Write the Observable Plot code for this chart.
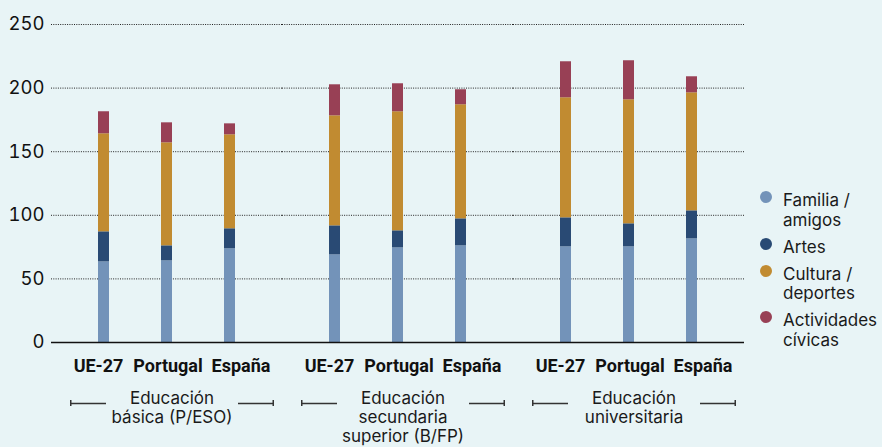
<!DOCTYPE html>
<html>
<head>
<meta charset="utf-8">
<script src="https://cdn.jsdelivr.net/npm/d3@7"></script>
<script src="https://cdn.jsdelivr.net/npm/@observablehq/plot@0.6"></script>
<style>
  html, body { margin: 0; padding: 0; background: #e8f4f6; }
  #wrap { position: relative; width: 882px; height: 447px; overflow: hidden; }
  #legend { position: absolute; left: 760px; top: 191px; font-family: Inter, "Noto Sans", sans-serif; font-size: 17px; line-height: 19.5px; color: #1a1a1a; }
  .row { display: flex; align-items: flex-start; margin-bottom: 7.5px; }
  .sw { width: 12px; height: 12px; border-radius: 50%; margin-top: 0px; margin-right: 11px; flex: none; }
  .lab { width: 104px; }
</style>
</head>
<body>
<div id="wrap"><div id="legend"></div></div>
<script>
const niveles = ["Educación\nbásica (P/ESO)", "Educación\nsecundaria\nsuperior (B/FP)", "Educación\nuniversitaria"];
const paises = ["UE-27", "Portugal", "España"];
const series = ["Familia / amigos", "Artes", "Cultura / deportes", "Actividades cívicas"];
const colores = ["#7393b9", "#294a74", "#c18b31", "#984055"];
const yTicks = [0, 50, 100, 150, 200, 250];

// order: básica (UE-27, Portugal, España), secundaria (...), universitaria (...)
const familia  = [63.4, 64.2, 73.7, 68.9, 74.4, 76.0, 75.2, 75.2, 81.5];
const artes    = [23.6, 11.8, 15.7, 22.8, 13.4, 21.2, 22.8, 18.1, 22.0];
const cultura  = [77.1, 81.0, 73.9, 86.5, 93.6, 89.7, 94.4, 97.5, 92.8];
const civicas  = [17.3, 15.7,  8.6, 24.4, 22.0, 11.8, 28.3, 30.7, 12.6];
const valores = [familia, artes, cultura, civicas];

const data = [];
niveles.forEach((n, gi) => paises.forEach((p, pi) => series.forEach((s, si) =>
  data.push({nivel: n, pais: p, serie: s, valor: valores[si][gi * 3 + pi]}))));

const xLab = {tickSize: 0, tickPadding: 17, fontSize: 18, fontWeight: "bold", fontFamily: "Roboto, sans-serif", label: null, fill: "#111"};
const bracket = {fx: d => d, y: 0, dy: 61, stroke: "#333", strokeWidth: 1.5};
const endTick = {fx: d => d, y1: 0, y2: 0, dy: 61, insetTop: -3, insetBottom: -3, fill: "#333"};

const chart = Plot.plot({
  width: 882,
  height: 447,
  marginLeft: 51,
  marginRight: 138,
  marginTop: 24,
  marginBottom: 105,
  style: {background: "transparent", fontFamily: "Inter, 'Noto Sans', sans-serif", color: "#1a1a1a", overflow: "visible"},
  fx: {domain: niveles, padding: 0, axis: null, label: null},
  x: {domain: paises, paddingInner: 0.8254, paddingOuter: 0.746, label: null},
  y: {domain: [0, 250], label: null},
  color: {domain: series, range: colores},
  marks: [
    Plot.gridY(yTicks.filter(t => t > 0), {stroke: "#222", strokeOpacity: 1, strokeDasharray: "1,1.3", strokeWidth: 1}),
    Plot.axisY(yTicks, {tickSize: 0, tickPadding: 7, fontSize: 18.5, label: null, fill: "#111"}),
    Plot.axisX([paises[0]], {...xLab, dx: -5.5}),
    Plot.axisX([paises[1]], {...xLab, dx: 1}),
    Plot.axisX([paises[2]], {...xLab, dx: 11}),
    Plot.barY(data, {fx: "nivel", x: "pais", y: "valor", fill: "serie", z: "serie"}),
    Plot.ruleY([0], {stroke: "#111", strokeWidth: 1.5}),
    Plot.text(niveles, {fx: d => d, text: d => d, frameAnchor: "bottom", lineAnchor: "top", dy: 48.5, dx: 5, fontSize: 17, lineHeight: 1.1, fill: "#1a1a1a"}),
    Plot.ruleY(niveles, {...bracket, insetLeft: 19, insetRight: 176}),
    Plot.ruleY(niveles, {...bracket, insetLeft: 187, insetRight: 8}),
    Plot.rect(niveles, {...endTick, insetLeft: 19, insetRight: 210.5}),
    Plot.rect(niveles, {...endTick, insetLeft: 221.5, insetRight: 8})
  ]
});
document.getElementById("wrap").prepend(chart);

const legend = document.getElementById("legend");
series.forEach((s, i) => {
  const row = document.createElement("div");
  row.className = "row";
  const sw = document.createElement("div");
  sw.className = "sw";
  sw.style.background = colores[i];
  const lab = document.createElement("div");
  lab.className = "lab";
  lab.textContent = s;
  row.append(sw, lab);
  legend.append(row);
});
</script>
</body>
</html>
